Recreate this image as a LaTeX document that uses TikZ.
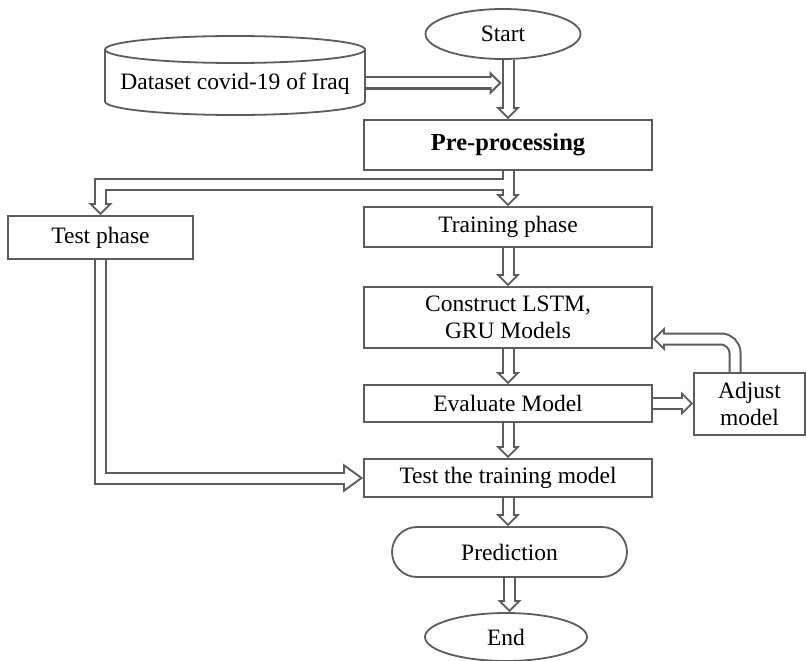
\documentclass[tikz,border=0pt]{standalone}
\usepackage{fontspec}
\setmainfont{Liberation Serif}
\usetikzlibrary{arrows.meta,shapes.misc,shapes.geometric,calc}
\definecolor{lc}{RGB}{92,92,92}
\pgfdeclarelayer{bg}
\pgfsetlayers{bg,main}
\tikzset{
  txt/.style={font=\fontsize{23.5}{27}\selectfont, text=black},
  box/.style={txt, draw=lc, line width=1.8pt, fill=white, rectangle, inner sep=0pt, align=center},
  mainbox/.style={box, minimum width=288pt},
  oval/.style={txt, draw=lc, line width=1.8pt, fill=white, ellipse, inner sep=0pt},
  pill/.style={txt, draw=lc, line width=1.8pt, fill=white, rounded rectangle, inner sep=0pt},
  cylline/.style={draw=lc, line width=1.8pt},
  % hollow block arrows: a grey band first, then a white core over it
  arrouter/.style={line width=13pt, draw=lc, line join=miter,
    -{Triangle[length=12pt,width=24pt,line width=0pt]}},
  arrinner/.style={line width=9pt, draw=white, line join=miter, shorten >=2.83pt,
    -{Triangle[length=7.17pt,width=14.34pt,line width=0pt]}},
  bigouter/.style={line width=13pt, draw=lc, line join=miter,
    -{Triangle[length=20pt,width=29pt,line width=0pt]}},
  biginner/.style={line width=9pt, draw=white, line join=miter, shorten >=3.41pt,
    -{Triangle[length=14.59pt,width=21.15pt,line width=0pt]}},
}
% all connectors, drawn once per pass (#1 = normal head, #2 = large head)
\newcommand\flowlinks[2]{%
  \draw[#1] (cylE) -- ($(cylE -| pre.north)+(-6.5,0)$);
  \draw[#1] (pre.north |- start.south) -- (pre.north);
  \draw[#1] (pre.south) -- (train.north);
  \draw[#1] (pre.south |- branch) -- (branch -| test.north) -- (test.north);
  \draw[#1] (train.south) -- (con.north);
  \draw[#1] (con.south) -- (eva.north);
  \draw[#1] (eva.east) -- (eva.east -| adj.west);
  \draw[#1, rounded corners=14pt] (adj.north -| loop) -- (loop) -- (con.east |- loop);
  \draw[#1] (eva.south) -- (ttm.north);
  \draw[#1] (ttm.south) -- (ttm.south |- pred.north);
  \draw[#1] (pred.south) -- (pred.south |- end.north);
  \draw[#2] (test.south) -- (test.south |- ttm.west) -- (ttm.west);
}
\begin{document}
\begin{tikzpicture}[x=1pt, y=-1pt]
\useasboundingbox (0,0) rectangle (806,661);

% dataset cylinder
\draw[cylline, fill=white] (105,49.5) -- (105,101.5)
  arc[start angle=180, end angle=360, x radius=130pt, y radius=13.5pt] -- (365,49.5);
\draw[cylline, fill=white] (235,49.5) ellipse [x radius=130pt, y radius=13.5pt];
\node[txt] (cyl) at (235,84) {Dataset covid-19 of Iraq};
\coordinate (cylE) at (365,83);

\node[oval, minimum width=155pt, minimum height=50pt] (start) at (503,34) {Start};
\node[mainbox, minimum height=50pt, font=\fontsize{24.5}{27}\selectfont\bfseries] (pre) at (508,145) {Pre-processing};
\node[mainbox, minimum height=40pt] (train) at (508,227) {Training phase};
\node[box, minimum width=185pt, minimum height=43pt] (test) at (100.5,237.5) {Test phase};
\node[mainbox, minimum height=61pt] (con) at (508,317.5) {Construct LSTM,\\GRU Models};
\node[mainbox, minimum height=37pt] (eva) at (508,403.5) {Evaluate Model};
\node[box, minimum width=111pt, minimum height=62pt] (adj) at (749.5,404) {Adjust\\model};
\node[mainbox, minimum height=38pt] (ttm) at (508,478) {Test the training model};
\node[pill, minimum width=235pt, minimum height=50pt] (pred) at (509.5,552) {Prediction};
\node[oval, minimum width=162pt, minimum height=48pt] (end) at (506,637) {End};

\coordinate (branch) at (300,184.5);
\coordinate (loop) at (735,339);

\begin{pgfonlayer}{bg}
  \flowlinks{arrouter}{bigouter}
  \flowlinks{arrinner}{biginner}
\end{pgfonlayer}
\end{tikzpicture}
\end{document}
